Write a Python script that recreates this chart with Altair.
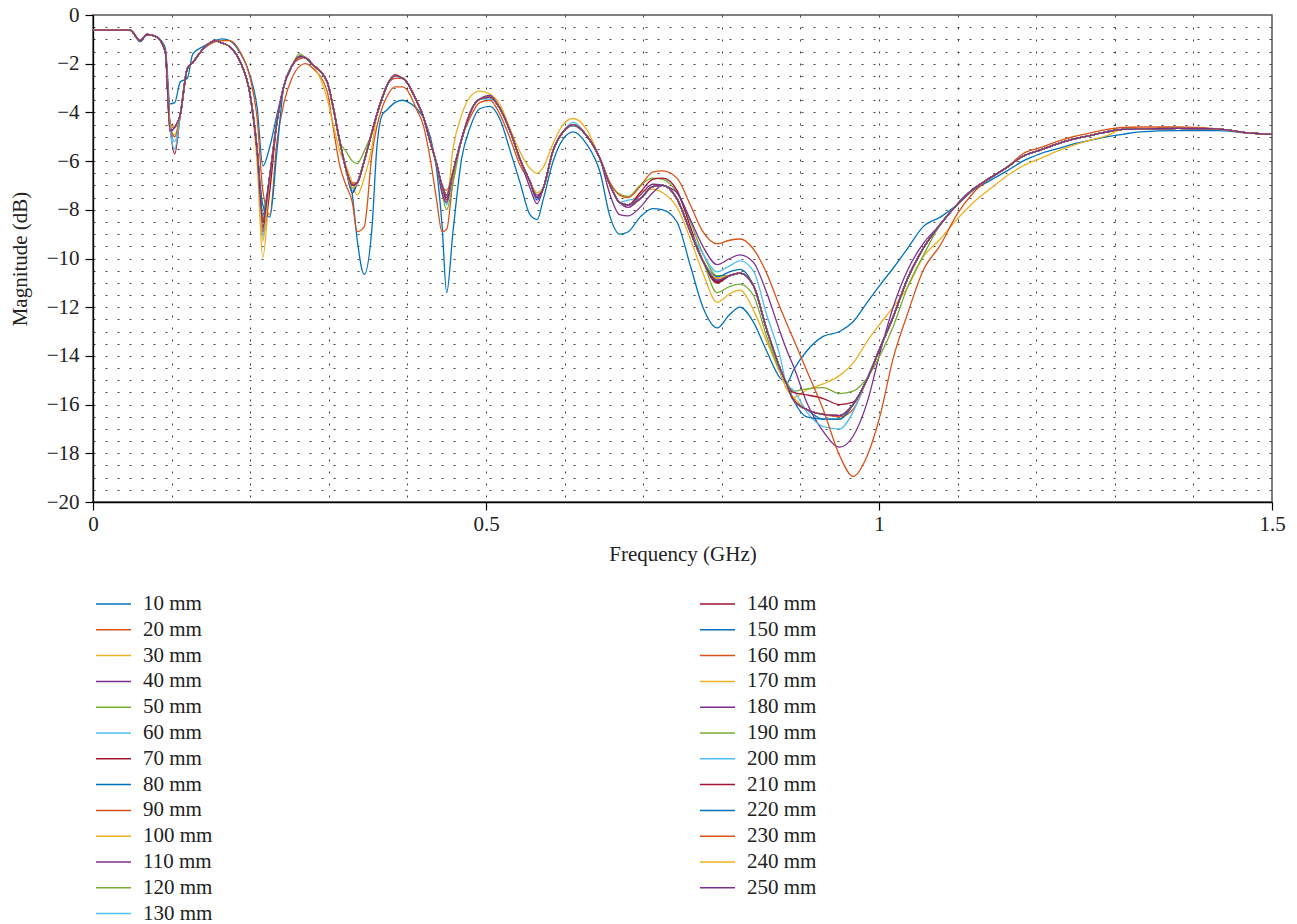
import altair as alt
import pandas as pd

# ---------------- data ----------------
freq = [0.000, 0.047, 0.060, 0.069, 0.081, 0.092, 0.098, 0.104, 0.111, 0.120,
        0.127, 0.140, 0.155, 0.164, 0.174, 0.187, 0.200, 0.209, 0.216, 0.225,
        0.234, 0.243, 0.253, 0.263, 0.270, 0.280, 0.298, 0.305, 0.314, 0.322,
        0.330, 0.336, 0.345, 0.355, 0.361, 0.368, 0.374, 0.384, 0.394, 0.399,
        0.412, 0.420, 0.429, 0.437, 0.444, 0.450, 0.458, 0.469, 0.480, 0.492,
        0.505, 0.518, 0.531, 0.543, 0.556, 0.565, 0.573, 0.585, 0.598, 0.611,
        0.628, 0.645, 0.658, 0.670, 0.681, 0.696, 0.712, 0.725, 0.743, 0.760,
        0.776, 0.794, 0.810, 0.823, 0.840, 0.857, 0.874, 0.883, 0.891, 0.908,
        0.929, 0.950, 0.967, 0.985, 1.001, 1.018, 1.036, 1.056, 1.078, 1.099,
        1.120, 1.141, 1.163, 1.183, 1.205, 1.226, 1.247, 1.268, 1.290, 1.310,
        1.332, 1.380, 1.430, 1.472, 1.500]

# common (bundle) magnitude in dB
base_db = [-0.62, -0.62, -1.05, -0.80, -0.90, -1.50, -4.50, -4.60, -4.10, -2.20,
           -1.95, -1.40, -1.05, -1.15, -1.30, -1.90, -3.30, -5.60, -8.50, -6.60,
           -4.40, -2.90, -2.10, -1.70, -1.75, -2.05, -2.75, -3.70, -5.20, -6.35,
           -7.00, -6.90, -6.00, -4.80, -4.10, -3.40, -2.90, -2.50, -2.60, -2.75,
           -3.55, -4.15, -5.20, -6.10, -7.00, -7.40, -6.45, -5.10, -4.00, -3.45,
           -3.37, -3.85, -4.80, -5.90, -6.85, -7.50, -7.10, -5.60, -4.80, -4.50,
           -4.95, -5.90, -7.00, -7.70, -7.80, -7.55, -7.05, -7.00, -7.55, -8.90,
           -10.10, -10.90, -10.70, -10.60, -11.10, -12.90, -14.50, -15.20, -15.80, -16.20,
           -16.40, -16.45, -16.00, -14.95, -13.70, -12.40, -10.85, -9.60, -8.60, -7.80,
           -7.15, -6.70, -6.25, -5.80, -5.55, -5.30, -5.10, -4.95, -4.80, -4.70,
           -4.68, -4.65, -4.68, -4.85, -4.90]

series_mm = [10, 20, 30, 40, 50, 60, 70, 80, 90, 100, 110, 120, 130,
             140, 150, 160, 170, 180, 190, 200, 210, 220, 230, 240, 250]

palette = ["#0072BD", "#D95319", "#EDB120", "#7E2F8E", "#77AC30", "#4DBEEE", "#A2142F"]

# values of each series where it departs from the bundle (freq -> dB)
values_10 = {0.060: -1.1, 0.092: -1.35, 0.098: -3.65, 0.104: -3.6, 0.111: -2.75, 0.120: -2.6,
             0.127: -1.6, 0.140: -1.3, 0.155: -1.05, 0.164: -0.98, 0.174: -1.05, 0.187: -1.55,
             0.200: -2.5, 0.209: -3.85, 0.216: -6.2, 0.225: -5.4, 0.234: -4.1,
             0.322: -6.3, 0.330: -7.4, 0.336: -9.2, 0.345: -10.65, 0.355: -8.7, 0.361: -5.5,
             0.368: -4.1, 0.374: -3.9, 0.384: -3.6, 0.394: -3.5, 0.399: -3.55, 0.412: -3.85,
             0.420: -4.2, 0.429: -5.0, 0.437: -6.3, 0.444: -8.6, 0.450: -11.4, 0.458: -8.9,
             0.469: -5.9, 0.480: -4.6, 0.492: -3.85, 0.505: -3.75, 0.518: -4.3, 0.531: -5.6,
             0.543: -6.85, 0.556: -8.2, 0.565: -8.4, 0.573: -7.55, 0.585: -6.05, 0.598: -5.1,
             0.611: -4.8, 0.628: -5.3, 0.645: -6.45, 0.658: -8.3, 0.670: -9.0, 0.681: -8.9,
             0.696: -8.3, 0.712: -7.95, 0.725: -8.0, 0.743: -8.5, 0.760: -10.3, 0.776: -12.0,
             0.794: -12.85, 0.810: -12.3, 0.823: -12.0, 0.840: -12.6, 0.857: -13.8, 0.874: -14.9,
             0.883: -15.1, 0.891: -14.6, 0.908: -13.8, 0.929: -13.2, 0.950: -13.0, 0.967: -12.6,
             0.985: -11.8, 1.001: -11.1, 1.018: -10.4, 1.036: -9.6, 1.056: -8.7, 1.078: -8.3,
             1.099: -7.8, 1.120: -7.2, 1.141: -6.8, 1.163: -6.4, 1.183: -6.0, 1.205: -5.7,
             1.226: -5.5, 1.247: -5.3, 1.268: -5.15, 1.290: -5.0, 1.310: -4.9, 1.332: -4.8,
             1.380: -4.75, 1.430: -4.75}
values_20 = {0.155: -1.1, 0.164: -1.05, 0.174: -1.05, 0.187: -1.5, 0.200: -2.6, 0.209: -4.3,
             0.216: -7.2, 0.225: -8.2, 0.234: -5.2, 0.243: -3.6, 0.253: -2.6, 0.263: -2.1,
             0.270: -2.0, 0.280: -2.2, 0.298: -3.15, 0.305: -4.5, 0.314: -6.2, 0.322: -7.0,
             0.330: -7.7, 0.336: -8.9, 0.345: -8.7, 0.355: -5.7, 0.361: -4.6, 0.368: -3.8,
             0.374: -3.35, 0.384: -2.95, 0.394: -2.95, 0.399: -3.05, 0.412: -3.9, 0.420: -4.5,
             0.429: -5.9, 0.437: -7.55, 0.444: -8.9, 0.450: -8.8, 0.458: -6.8, 0.469: -5.1,
             0.480: -4.2, 0.492: -3.6, 0.505: -3.5, 0.518: -4.1, 0.531: -5.1, 0.543: -6.15}
values_30 = {0.098: -4.8, 0.104: -4.9, 0.209: -6.2, 0.216: -9.95, 0.225: -7.0, 0.298: -3.45,
             0.305: -4.4, 0.314: -5.6, 0.322: -6.2, 0.330: -6.9, 0.336: -7.4, 0.345: -6.7,
             0.355: -5.4, 0.444: -7.2, 0.450: -7.6, 0.458: -5.5, 0.469: -4.1, 0.480: -3.35,
             0.492: -3.13, 0.505: -3.25, 0.518: -3.7, 0.531: -4.7, 0.543: -5.6, 0.556: -6.3,
             0.565: -6.5, 0.573: -6.25, 0.585: -5.3, 0.598: -4.5, 0.611: -4.25, 0.628: -4.7}
values_40 = {0.098: -4.8, 0.216: -8.8, 0.263: -1.75, 0.330: -7.1, 0.384: -2.45, 0.450: -7.5,
             0.505: -3.3, 0.565: -7.4, 0.681: -7.9, 0.794: -11.0}
values_50 = {0.216: -8.0, 0.263: -1.6, 0.322: -5.6, 0.330: -6.0, 0.336: -6.1, 0.345: -5.6,
             0.444: -7.3, 0.450: -8.0, 0.458: -6.9}
values_60 = {0.104: -5.2, 0.216: -9.2, 0.330: -7.2, 0.450: -7.8, 0.565: -7.3, 0.681: -7.6}
values_70 = {0.104: -5.7, 0.216: -8.9, 0.225: -7.2, 0.330: -7.3, 0.450: -7.6}
values_80 = {0.216: -7.8, 0.225: -8.3, 0.234: -5.6, 0.330: -7.3, 0.565: -7.6}
values_90 = {0.104: -5.0, 0.216: -8.3, 0.330: -6.9, 0.450: -7.2, 0.794: -10.8}
values_100 = {0.696: -7.3, 0.712: -7.15, 0.725: -7.3, 0.743: -7.9, 0.760: -9.2, 0.776: -10.6,
              0.794: -11.8, 0.810: -11.45, 0.823: -11.3, 0.840: -12.1, 0.857: -13.4,
              0.874: -14.7, 0.883: -15.4, 0.891: -15.7}
values_110 = {0.444: -7.3, 0.450: -7.7, 0.556: -7.1, 0.565: -7.75, 0.658: -7.4, 0.670: -8.2,
              0.681: -8.25, 0.696: -7.9, 0.712: -7.3}
values_120 = {0.658: -6.9, 0.670: -7.35, 0.681: -7.45, 0.696: -7.0, 0.712: -6.7, 0.725: -6.75,
              0.743: -7.3, 0.760: -8.5, 0.776: -9.8, 0.794: -10.7}
values_130 = {0.098: -4.7, 0.104: -5.5, 0.216: -9.0, 0.384: -2.6, 0.505: -3.45, 0.611: -4.4}
values_140 = {0.216: -8.7, 0.696: -7.3, 0.712: -6.75, 0.725: -6.7, 0.743: -7.2, 0.760: -8.7,
              0.794: -11.0}
values_150 = {0.611: -4.55, 0.794: -10.75, 0.810: -10.55, 0.823: -10.45, 0.929: -16.6, 0.950: -16.6}
values_160 = {0.263: -1.8, 0.384: -2.6, 0.505: -3.35, 0.950: -16.5, 0.967: -16.2}
values_170 = {0.891: -15.7, 0.908: -15.4, 0.929: -15.15, 0.950: -14.8, 0.967: -14.3, 0.985: -13.4,
              1.001: -12.7, 1.018: -12.0, 1.036: -11.2, 1.056: -9.95, 1.078: -9.2, 1.099: -8.4,
              1.120: -7.7, 1.141: -7.15, 1.163: -6.6, 1.183: -6.2, 1.205: -5.9, 1.226: -5.6,
              1.247: -5.35, 1.268: -5.15, 1.290: -4.95}
values_180 = {0.696: -7.4, 0.712: -6.95, 0.743: -7.3, 0.760: -8.4, 0.776: -9.5, 0.794: -10.25,
              0.810: -10.0, 0.823: -9.85, 0.840: -10.15, 0.857: -11.4, 0.874: -13.0, 0.883: -13.8,
              0.891: -14.4, 0.908: -15.9, 0.929: -17.1, 0.950: -17.75, 0.967: -17.3, 0.985: -15.9,
              1.001: -13.9, 1.018: -12.0, 1.036: -10.5, 1.056: -9.4}
values_190 = {0.794: -11.4, 0.810: -11.15, 0.823: -11.05, 0.840: -11.5, 0.857: -13.2, 0.874: -14.6,
              0.883: -15.1, 0.891: -15.45, 0.908: -15.35, 0.929: -15.3, 0.950: -15.55, 0.967: -15.45,
              0.985: -14.9, 1.001: -14.0, 1.018: -12.8, 1.036: -11.2, 1.056: -9.9}
values_200 = {0.776: -9.8, 0.794: -10.55, 0.810: -10.3, 0.823: -10.1, 0.840: -10.5, 0.857: -12.3,
              0.874: -14.0, 0.891: -15.4, 0.908: -16.3, 0.929: -16.9, 0.950: -17.0, 0.967: -16.3,
              0.985: -14.9}
values_210 = {0.794: -10.95, 0.883: -15.2, 0.891: -15.5, 0.908: -15.6, 0.929: -15.75, 0.950: -16.0,
              0.967: -15.9}
values_220 = {0.216: -8.2, 0.908: -16.5, 0.929: -16.6, 0.950: -16.6}
values_230 = {0.658: -6.9, 0.670: -7.4, 0.681: -7.5, 0.696: -7.05, 0.712: -6.45, 0.725: -6.4,
              0.743: -6.7, 0.760: -7.8, 0.776: -8.9, 0.794: -9.4, 0.810: -9.25, 0.823: -9.2,
              0.840: -9.6, 0.857: -10.6, 0.874: -12.0, 0.883: -12.7, 0.891: -13.3, 0.908: -14.6,
              0.929: -16.2, 0.950: -18.1, 0.967: -18.95, 0.985: -18.1, 1.001: -16.5, 1.018: -14.1,
              1.036: -12.3, 1.056: -10.5, 1.078: -9.45, 1.099: -8.2, 1.120: -7.3, 1.183: -5.7,
              1.205: -5.45, 1.226: -5.2, 1.247: -5.0, 1.268: -4.85, 1.290: -4.7, 1.310: -4.62,
              1.332: -4.6, 1.380: -4.6}
values_240 = {0.216: -9.3, 0.330: -7.1, 0.565: -7.3, 0.794: -10.8}
values_250 = {0.098: -4.75, 0.263: -1.7}

series_values = {10: values_10, 20: values_20, 30: values_30, 40: values_40, 50: values_50,
                 60: values_60, 70: values_70, 80: values_80, 90: values_90, 100: values_100,
                 110: values_110, 120: values_120, 130: values_130, 140: values_140,
                 150: values_150, 160: values_160, 170: values_170, 180: values_180,
                 190: values_190, 200: values_200, 210: values_210, 220: values_220,
                 230: values_230, 240: values_240, 250: values_250}

x_major = [0, 0.5, 1, 1.5]
y_major = [-20, -18, -16, -14, -12, -10, -8, -6, -4, -2, 0]
x_grid = [0.1, 0.2, 0.3, 0.4, 0.5, 0.6, 0.7, 0.8, 0.9, 1.0, 1.1, 1.2, 1.3, 1.4]
y_grid = [-19.5, -19, -18.5, -18, -17.5, -17, -16.5, -16, -15.5, -15, -14.5, -14, -13.5,
          -13, -12.5, -12, -11.5, -11, -10.5, -10, -9.5, -9, -8.5, -8, -7.5, -7, -6.5,
          -6, -5.5, -5, -4.5, -4, -3.5, -3, -2.5, -2, -1.5, -1, -0.5]

# ---------------- build table ----------------
rows = []
for i, mm in enumerate(series_mm):
    vals = series_values.get(mm, {})
    for k in vals:
        if k not in freq:
            raise ValueError(f"bad key {k} for {mm}")
    for f, b in zip(freq, base_db):
        rows.append({"f": f, "db": vals.get(f, b), "series": f"{mm} mm", "k": i})
df = pd.DataFrame(rows)

labels = [f"{m} mm" for m in series_mm]
colors = [palette[i % 7] for i in range(len(labels))]

FONT = "Liberation Serif"
FS = 21
x_scale = alt.Scale(domain=[0, 1.5], nice=False, zero=False)
y_scale = alt.Scale(domain=[-20, 0], nice=False, zero=False)

grid_df = pd.DataFrame({"f": [0.0, 1.5], "db": [-20.0, 0.0]})
grid_axis_common = dict(grid=True, gridDash=[2, 10], gridColor="#111", gridOpacity=0.8,
                        gridWidth=1, domain=False, ticks=False, labels=False, title=None)
grid = alt.Chart(grid_df).mark_point(opacity=0).encode(
    x=alt.X("f:Q", scale=x_scale, axis=alt.Axis(values=x_grid, orient="bottom", **grid_axis_common)),
    y=alt.Y("db:Q", scale=y_scale, axis=alt.Axis(values=y_grid, orient="left", **grid_axis_common)),
)

lines = alt.Chart(df).mark_line(strokeWidth=1.3, interpolate="monotone").encode(
    x=alt.X("f:Q", scale=x_scale,
            axis=alt.Axis(values=x_major, orient="bottom", grid=False, format="~g",
                          title="Frequency (GHz)", tickSize=8, labelPadding=3,
                          titlePadding=9, labelFlush=False)),
    y=alt.Y("db:Q", scale=y_scale,
            axis=alt.Axis(values=y_major, orient="left", grid=False, format="d",
                          title="Magnitude (dB)", tickSize=8, labelPadding=6,
                          titlePadding=16, labelFlush=False)),
    color=alt.Color("series:N",
                    scale=alt.Scale(domain=labels, range=colors),
                    legend=alt.Legend(orient="none", legendX=2, legendY=579, columns=2,
                                      columnPadding=486, rowPadding=4.8, clipHeight=20,
                                      title=None, symbolType="stroke", symbolSize=1225,
                                      symbolStrokeWidth=1.5, labelOffset=11, padding=0,
                                      labelFont=FONT, labelFontSize=FS, labelColor="#222")),
    detail="k:N",
    order="k:Q",
)

chart = alt.layer(grid, lines).resolve_axis(x="independent", y="independent").properties(
    width=1179, height=487,
    autosize=alt.AutoSizeParams(type="none"),
    padding={"left": 85, "top": 7, "right": 17, "bottom": 424},
).configure_axis(
    labelFont=FONT, titleFont=FONT, labelFontSize=FS, titleFontSize=FS,
    labelColor="#222", titleColor="#222", titleFontWeight="normal",
    domainColor="#000", tickColor="#000", domainWidth=1.3, tickWidth=1.2,
).configure_view(stroke="#555", strokeWidth=1.5)

chart.save("out.html", embed_options={"renderer": "svg", "actions": False})
